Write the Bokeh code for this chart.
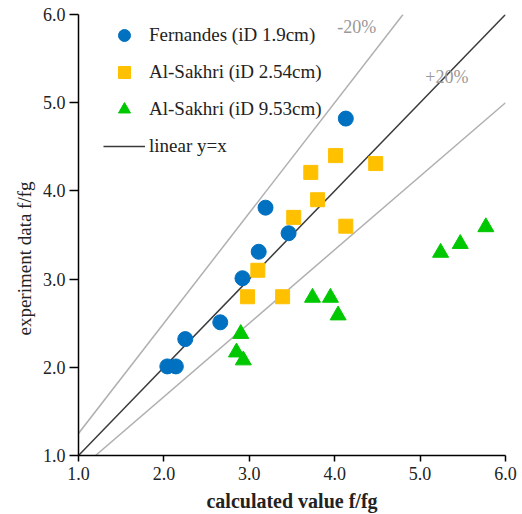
from bokeh.plotting import figure
from bokeh.models import Legend, LegendItem, Range1d, Label, FixedTicker, Title
from bokeh.embed import file_html
from bokeh.resources import INLINE

# Fernandes (iD 1.9cm)
fern_x = [2.04, 2.14, 2.25, 2.66, 2.92, 3.11, 3.19, 3.46, 4.13]
fern_y = [2.01, 2.01, 2.32, 2.51, 3.01, 3.31, 3.81, 3.52, 4.82]

# Al-Sakhri (iD 2.54cm)
sak254_x = [2.98, 3.10, 3.39, 3.52, 3.80, 4.13, 3.72, 4.01, 4.48]
sak254_y = [2.80, 3.10, 2.80, 3.70, 3.90, 3.60, 4.21, 4.40, 4.31]

# Al-Sakhri (iD 9.53cm)
sak953_x = [2.90, 2.85, 2.93, 3.74, 3.95, 4.04, 5.24, 5.47, 5.77]
sak953_y = [2.38, 2.17, 2.08, 2.79, 2.79, 2.59, 3.30, 3.40, 3.59]

# reference lines: y = x and the +/-20% band
line_x = [1.0, 6.0]
line_y = [1.0, 6.0]
minus20_x = [1.0, 4.8]
minus20_y = [1.25, 6.0]
plus20_x = [1.2, 6.0]
plus20_y = [1.0, 5.0]

ticks = [1.0, 2.0, 3.0, 4.0, 5.0, 6.0]
tick_labels = {t: f"{t:.1f}" for t in ticks}

SERIF = "'Liberation Serif', serif"
TEXT = "#222222"

p = figure(width=522, height=514, output_backend="svg", toolbar_location=None,
           x_range=Range1d(1, 6), y_range=Range1d(1, 6),
           min_border_left=78, min_border_right=17, min_border_top=14, min_border_bottom=59)
p.outline_line_color = None
p.xgrid.visible = False
p.ygrid.visible = False

for ax in (p.xaxis, p.yaxis):
    ax.ticker = FixedTicker(ticks=ticks)
    ax.major_label_overrides = tick_labels
    ax.minor_tick_line_color = None
    ax.major_tick_in = 0
    ax.axis_line_color = "black"
    ax.axis_line_width = 1.5
    ax.major_tick_line_width = 1.5
    ax.major_label_text_font = SERIF
    ax.major_label_text_font_size = "18px"
    ax.major_label_text_color = TEXT

p.xaxis.major_tick_out = 6
p.xaxis.major_label_standoff = 5
p.yaxis.major_tick_out = 9
p.yaxis.major_label_standoff = 4

p.xaxis.axis_label = "calculated value f/fg"
p.xaxis.axis_label_text_font = SERIF
p.xaxis.axis_label_text_font_size = "20px"
p.xaxis.axis_label_text_font_style = "bold"
p.xaxis.axis_label_text_color = TEXT
p.xaxis.axis_label_standoff = 7

# vertical axis title, anchored from the bottom of the frame
ytitle = Title(text="experiment data f/fg", align="left", offset=120,
               text_font=SERIF, text_font_size="19px", text_color=TEXT,
               text_font_style="normal", standoff=10)
p.add_layout(ytitle, "left")

r_m20 = p.line(minus20_x, minus20_y, line_color="#b0b0b0", line_width=1.5)
r_p20 = p.line(plus20_x, plus20_y, line_color="#b0b0b0", line_width=1.5)
r_lin = p.line(line_x, line_y, line_color="#3a3a3a", line_width=1.5)

r_f = p.scatter(fern_x, fern_y, marker="circle", size=15, fill_color="#0070C0", line_color="#0070C0")
r_s = p.scatter(sak254_x, sak254_y, marker="square", size=14, fill_color="#FFC000", line_color="#FFC000")
r_t = p.scatter(sak953_x, sak953_y, marker="triangle", size=16, fill_color="#00C800", line_color="#00C800")

p.add_layout(Label(x=4.03, y=5.75, text="-20%", text_font=SERIF, text_font_size="18px",
                   text_color="#999999"))
p.add_layout(Label(x=5.06, y=5.18, text="+20%", text_font=SERIF, text_font_size="18px",
                   text_color="#999999"))

legend = Legend(items=[
    LegendItem(label="Fernandes (iD 1.9cm)", renderers=[r_f]),
    LegendItem(label="Al-Sakhri (iD 2.54cm)", renderers=[r_s]),
    LegendItem(label="Al-Sakhri (iD 9.53cm)", renderers=[r_t]),
    LegendItem(label="linear y=x", renderers=[r_lin]),
], location=(25, 294))
legend.border_line_color = None
legend.background_fill_alpha = 0
legend.padding = 0
legend.margin = 0
legend.spacing = 7
legend.glyph_width = 42
legend.glyph_height = 30
legend.label_height = 30
legend.label_standoff = 4
legend.label_text_font = SERIF
legend.label_text_font_size = "19px"
legend.label_text_color = TEXT
p.add_layout(legend)

open("out.html", "w").write(file_html(p, INLINE))
